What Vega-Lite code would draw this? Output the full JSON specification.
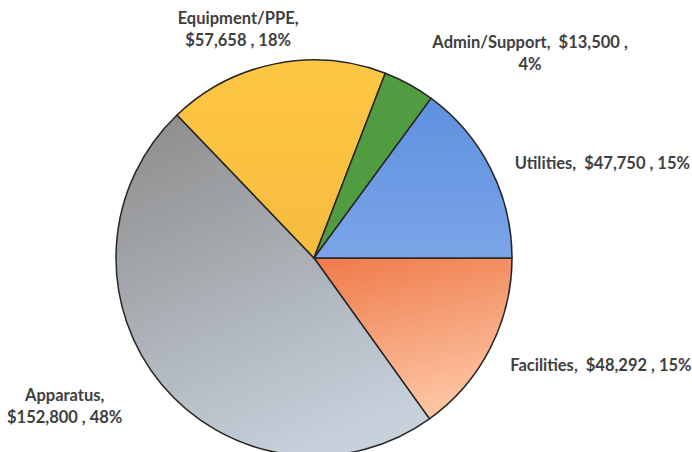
{
  "$schema": "https://vega.github.io/schema/vega-lite/v6.json",
  "width": 628,
  "height": 516,
  "autosize": {"type": "none"},
  "padding": {"left": 0, "top": 0, "right": 64, "bottom": -64},
  "background": "#ffffff",
  "config": {"view": {"stroke": null}, "text": {"font": "Lato", "fontSize": 16.5, "fontWeight": "bold", "color": "#404040"}},
  "data": {
    "values": [
      {"category": "Facilities", "value": 48292, "order": 1, "label": "Facilities,\u00a0 $48,292 , 15%"},
      {"category": "Apparatus", "value": 152800, "order": 2, "label": "Apparatus,\n$152,800 , 48%"},
      {"category": "Equipment/PPE", "value": 57658, "order": 3, "label": "Equipment/PPE,\n$57,658 , 18%"},
      {"category": "Admin/Support", "value": 13500, "order": 4, "label": "Admin/Support,\u00a0 $13,500 ,\n4%"},
      {"category": "Utilities", "value": 47750, "order": 5, "label": "Utilities,\u00a0 $47,750 , 15%"}
    ]
  },
  "encoding": {
    "theta": {"field": "value", "type": "quantitative", "stack": true, "scale": {"range": [1.5708, 7.854]}},
    "order": {"field": "order", "type": "quantitative"}
  },
  "layer": [
    {
      "mark": {"type": "arc", "outerRadius": 198, "stroke": "#262626", "strokeWidth": 1.5},
      "encoding": {
        "color": {
          "condition": [
            {"test": "datum.category === 'Facilities'", "value": {"gradient": "linear", "x1": 0, "y1": 0, "x2": 0.3, "y2": 1, "stops": [{"offset": 0, "color": "#ef7a4a"}, {"offset": 1, "color": "#fcc3a0"}]}},
            {"test": "datum.category === 'Apparatus'", "value": {"gradient": "linear", "x1": 0.2, "y1": 0, "x2": 0.6, "y2": 1, "stops": [{"offset": 0, "color": "#8f8f8f"}, {"offset": 1, "color": "#c6d1dc"}]}},
            {"test": "datum.category === 'Equipment/PPE'", "value": {"gradient": "linear", "x1": 0, "y1": 0, "x2": 0, "y2": 1, "stops": [{"offset": 0, "color": "#fec743"}, {"offset": 1, "color": "#f6bb3f"}]}},
            {"test": "datum.category === 'Admin/Support'", "value": "#519c40"}
          ],
          "value": {"gradient": "linear", "x1": 0, "y1": 0, "x2": 0, "y2": 1, "stops": [{"offset": 0, "color": "#5f90df"}, {"offset": 1, "color": "#7aa5e8"}]}
        }
      }
    },
    {
      "mark": {"type": "text", "radius": 198, "align": "left", "baseline": "alphabetic", "dx": 20, "dy": 23},
      "encoding": {"text": {"condition": {"test": "datum.category === 'Facilities'", "field": "label"}, "value": ""}}
    },
    {
      "mark": {"type": "text", "radius": 198, "align": "left", "baseline": "alphabetic", "dx": 24, "dy": 0},
      "encoding": {"text": {"condition": {"test": "datum.category === 'Utilities'", "field": "label"}, "value": ""}}
    },
    {
      "mark": {"type": "text", "radius": 198, "align": "center", "baseline": "alphabetic", "lineBreak": "\n", "lineHeight": 22, "dx": 121, "dy": -36},
      "encoding": {"text": {"condition": {"test": "datum.category === 'Admin/Support'", "field": "label"}, "value": ""}}
    },
    {
      "mark": {"type": "text", "radius": 198, "align": "center", "baseline": "alphabetic", "lineBreak": "\n", "lineHeight": 22, "dx": -37, "dy": -40},
      "encoding": {"text": {"condition": {"test": "datum.category === 'Equipment/PPE'", "field": "label"}, "value": ""}}
    },
    {
      "mark": {"type": "text", "radius": 198, "align": "center", "baseline": "alphabetic", "lineBreak": "\n", "lineHeight": 22, "dx": -97, "dy": 16},
      "encoding": {"text": {"condition": {"test": "datum.category === 'Apparatus'", "field": "label"}, "value": ""}}
    }
  ]
}
